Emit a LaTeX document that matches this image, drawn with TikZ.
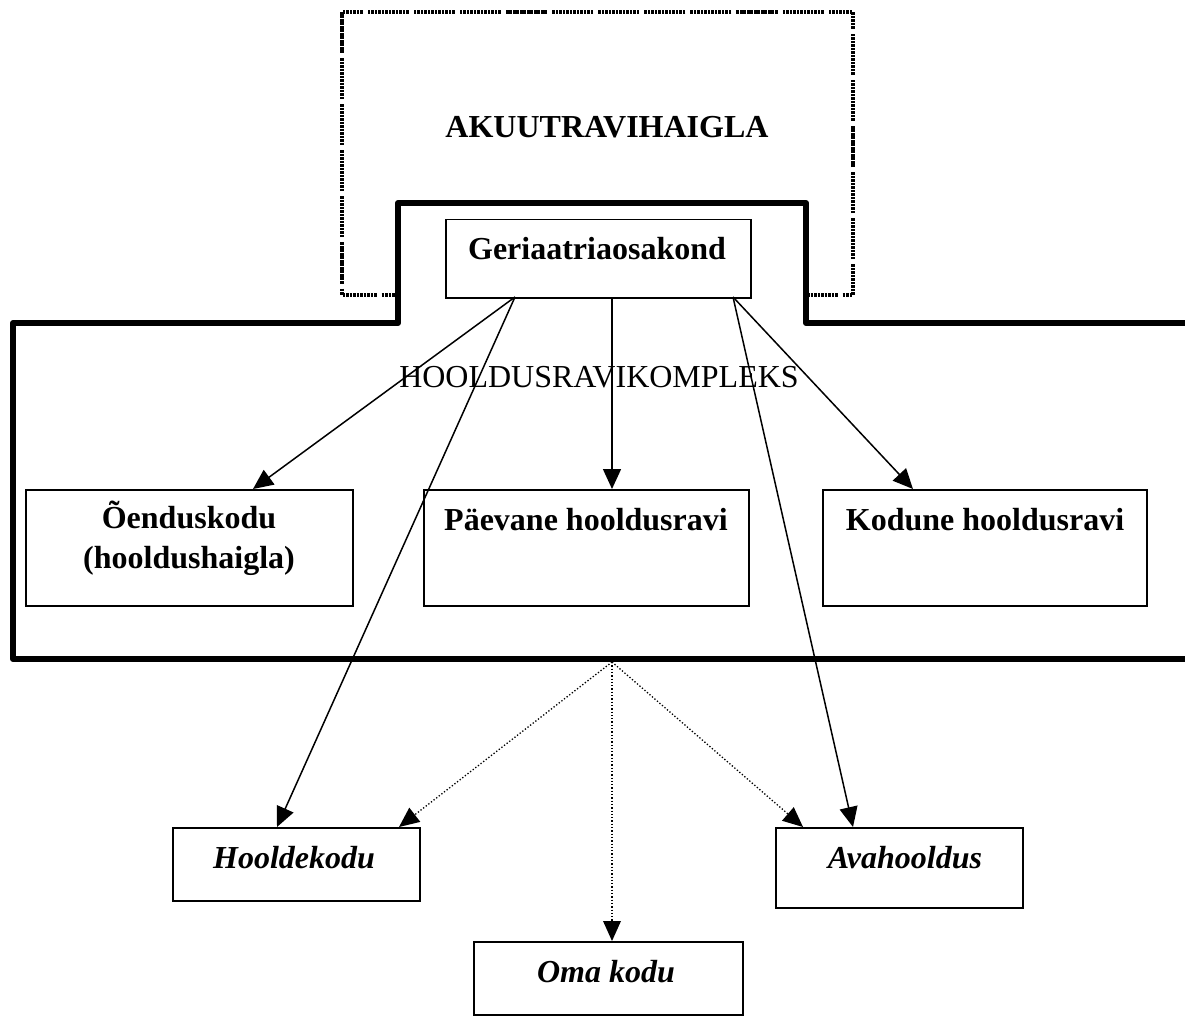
\documentclass[tikz,border=0pt]{standalone}
\usepackage{fontspec}
\setmainfont{Liberation Serif}
\usetikzlibrary{arrows.meta}
\begin{document}
\begin{tikzpicture}[x=1pt,y=-1pt,
  box/.style={draw,line width=1.5pt,anchor=north west,inner sep=0pt},
  btxt/.style={font=\fontsize{32}{38}\selectfont\bfseries,anchor=base,inner sep=0pt},
  itxt/.style={font=\fontsize{32}{38}\selectfont\bfseries\itshape,anchor=base,inner sep=0pt},
  rtxt/.style={font=\fontsize{32}{38}\selectfont,anchor=base,inner sep=0pt},
  arr/.style={line width=1.5pt,-{Triangle[length=20pt,width=18pt]}},
  darr/.style={line width=1.3pt,dotted,-{Triangle[length=20pt,width=18pt,line width=0pt]}},
  dotbox/.style={line width=3.3pt,dash pattern=on 2.6pt off 0.9pt on 2.6pt off 0.9pt on 2.6pt off 0.9pt on 2.6pt off 0.9pt on 2.6pt off 0.9pt on 2.6pt off 0.9pt on 2.6pt off 0.9pt on 2.6pt off 0.9pt on 2.6pt off 0.9pt on 2.6pt off 0.9pt on 2.6pt off 0.9pt on 2.6pt off 5pt},
  thickline/.style={line width=6pt,line join=round}
]
\useasboundingbox (0,0) rectangle (1185,1016);

% acute hospital (dotted)
\draw[dotbox] (342,12) rectangle (853,295);
\node[btxt] (akuut) at (607,138) {AKUUTRAVIHAIGLA};

% nursing care complex (thick)
\fill[white] (1185,323) -- (806,323) -- (806,203) -- (398,203) -- (398,323) -- (13,323) -- (13,659) -- (1185,659) -- cycle;
\draw[thickline] (1190,323) -- (806,323) -- (806,203) -- (398,203) -- (398,323) -- (13,323) -- (13,659) -- (1190,659);
\node[rtxt] (kompleks) at (599,387) {HOOLDUSRAVIKOMPLEKS};

% boxes
\node[box,minimum width=305,minimum height=78] (ger) at (445,219) {};
\node[btxt] (gert) at (597,260) {Geriaatriaosakond};

\node[box,minimum width=327,minimum height=116] (oe) at (25,489) {};
\node[btxt] (oet1) at (189,528) {Õenduskodu};
\node[btxt] (oet2) at (189,568) {(hooldushaigla)};

\node[box,minimum width=325,minimum height=116] (pa) at (423,489) {};
\node[btxt] (pat) at (586,530) {Päevane hooldusravi};

\node[box,minimum width=324,minimum height=116] (ko) at (822,489) {};
\node[btxt] (kot) at (985,530) {Kodune hooldusravi};

\node[box,minimum width=247,minimum height=73] (ho) at (172,827) {};
\node[itxt] (hot) at (294,868) {Hooldekodu};

\node[box,minimum width=247,minimum height=80] (av) at (775,827) {};
\node[itxt] (avt) at (905,868) {Avahooldus};

\node[box,minimum width=269,minimum height=73] (om) at (473,941) {};
\node[itxt] (omt) at (606,982) {Oma kodu};

% connector points
\coordinate (gL) at (515,297);
\coordinate (gM) at (612,297);
\coordinate (gR) at (733,297);
\coordinate (base) at (612,662);
\coordinate (oeT) at (253,489);
\coordinate (paT) at (612,489);
\coordinate (koT) at (913,489);
\coordinate (hoT) at (277,827);
\coordinate (hoT2) at (399,827);
\coordinate (avT) at (853,827);
\coordinate (avT2) at (803,827);
\coordinate (omT) at (612,941);

% solid arrows
\draw[arr] (gL) -- (oeT);
\draw[arr] (gL) -- (hoT);
\draw[arr] (gM) -- (paT);
\draw[arr] (gR) -- (koT);
\draw[arr] (gR) -- (avT);

% dotted arrows
\draw[darr] (base) -- (hoT2);
\draw[darr] (base) -- (omT);
\draw[darr] (base) -- (avT2);
\end{tikzpicture}
\end{document}
